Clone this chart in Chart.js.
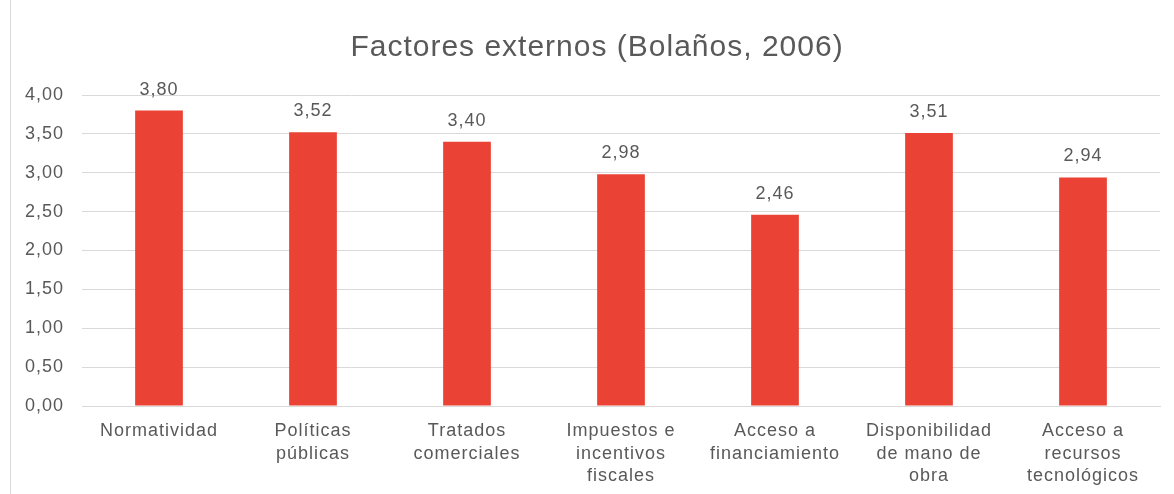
<!DOCTYPE html>
<html>
<head>
<meta charset="utf-8">
<script src="https://cdn.jsdelivr.net/npm/chart.js@4"></script>
<style>
  html, body { margin: 0; padding: 0; background: #fff; }
  #wrap { position: relative; width: 1174px; height: 494px; }
</style>
</head>
<body>
<div id="wrap"><canvas id="chart" width="1174" height="494"></canvas></div>
<script>
const categories = [
  'Normatividad',
  ['Políticas', 'públicas'],
  ['Tratados', 'comerciales'],
  ['Impuestos e', 'incentivos', 'fiscales'],
  ['Acceso a', 'financiamiento'],
  ['Disponibilidad', 'de mano de', 'obra'],
  ['Acceso a', 'recursos', 'tecnológicos']
];
const values = [3.80, 3.52, 3.40, 2.98, 2.46, 3.51, 2.94];
const yTicks = [0, 0.5, 1, 1.5, 2, 2.5, 3, 3.5, 4];
const chartTitle = 'Factores externos (Bolaños, 2006)';

const fmt = v => v.toFixed(2).replace('.', ',');
const gray = '#595959';
const font = 'Liberation Sans, Arial, sans-serif';

// título, etiquetas encima de cada barra y marco del gráfico
const extras = {
  id: 'extras',
  beforeUpdate(chart) { chart.ctx.letterSpacing = '1px'; },
  beforeDraw(chart) {
    const ctx = chart.ctx;
    ctx.letterSpacing = '1px';
    ctx.save();
    ctx.strokeStyle = '#d9d9d9';
    ctx.lineWidth = 1;
    ctx.strokeRect(10.5, -1, 1200, 600);
    // el gráfico original es más ancho que el recorte: el título va centrado en x=597
    ctx.fillStyle = gray;
    ctx.font = '30px ' + font;
    ctx.textAlign = 'center';
    ctx.textBaseline = 'middle';
    ctx.fillText(chartTitle, 597, 48);
    ctx.restore();
  },
  afterDatasetsDraw(chart) {
    const ctx = chart.ctx;
    const meta = chart.getDatasetMeta(0);
    ctx.save();
    ctx.fillStyle = gray;
    ctx.font = '18px ' + font;
    ctx.textAlign = 'center';
    ctx.textBaseline = 'bottom';
    meta.data.forEach((bar, i) => {
      ctx.fillText(fmt(values[i]), bar.x, bar.y - 12);
    });
    ctx.restore();
  }
};

new Chart(document.getElementById('chart'), {
  type: 'bar',
  data: {
    labels: categories,
    datasets: [{
      data: values,
      backgroundColor: '#EA4335',
      categoryPercentage: 1,
      barPercentage: 0.31
    }]
  },
  options: {
    responsive: false,
    animation: false,
    layout: { padding: { left: 0, right: 14, top: 95, bottom: 7 } },
    plugins: {
      legend: { display: false },
      tooltip: { enabled: false },
      title: { display: false }
    },
    scales: {
      x: {
        afterFit(scale) { scale.height = 81; },
        grid: { display: false },
        border: { display: true, color: '#d9d9d9' },
        ticks: {
          color: gray,
          font: { family: font, size: 18, lineHeight: 1.25 },
          padding: 6,
          maxRotation: 0,
          autoSkip: false
        }
      },
      y: {
        min: 0,
        max: 4,
        afterBuildTicks(scale) { scale.ticks = yTicks.map(v => ({ value: v })); },
        afterFit(scale) { scale.width = 82; },
        grid: { color: '#d9d9d9', drawTicks: false },
        border: { display: false },
        ticks: {
          color: gray,
          font: { family: font, size: 18 },
          padding: 18,
          callback: v => fmt(v)
        }
      }
    }
  },
  plugins: [extras]
});
</script>
</body>
</html>
